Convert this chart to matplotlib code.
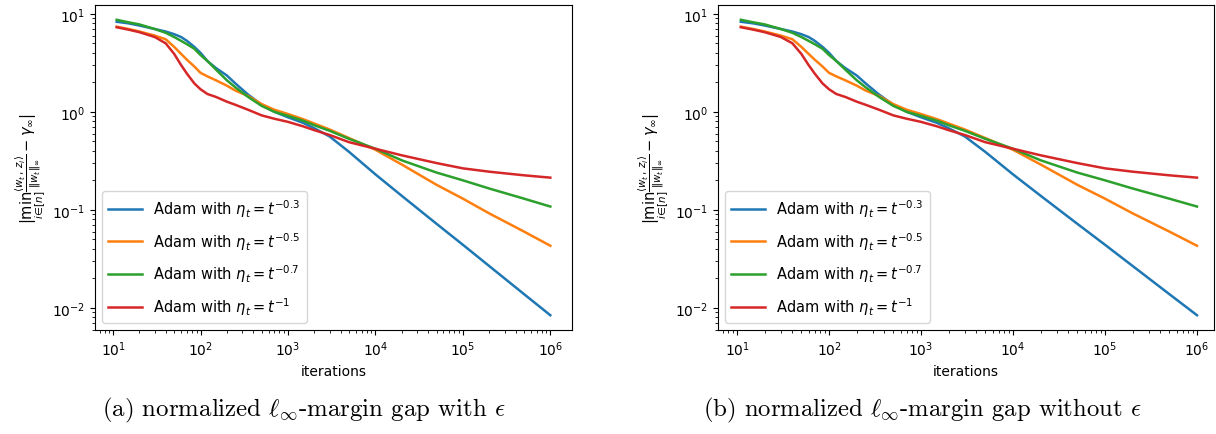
import matplotlib
matplotlib.use("Agg")
import matplotlib.pyplot as plt

# ---- data ----
iterations = [11, 15, 20, 30, 40, 50, 60, 70, 85, 100, 120, 150, 200, 250, 350,
              500, 700, 1000, 1500, 2000, 3000, 5000, 1e4, 2e4, 5e4, 1e5, 2e5, 5e5, 1e6]

gap_eta_03 = [8.3, 8.0, 7.6, 7.0, 6.6, 6.2, 5.8, 5.3, 4.6, 4.0, 3.3, 2.8, 2.35, 1.95, 1.5,
              1.18, 1.0, 0.88, 0.77, 0.68, 0.56, 0.39, 0.23, 0.139, 0.072, 0.044, 0.0267, 0.0138, 0.0084]
gap_eta_05 = [7.4, 7.0, 6.6, 6.0, 5.5, 4.6, 3.9, 3.4, 2.9, 2.5, 2.3, 2.1, 1.85, 1.65, 1.45,
              1.2, 1.05, 0.95, 0.84, 0.76, 0.66, 0.54, 0.41, 0.29, 0.18, 0.13, 0.092, 0.06, 0.043]
gap_eta_07 = [8.7, 8.2, 7.8, 7.0, 6.4, 5.8, 5.3, 4.9, 4.4, 3.8, 3.3, 2.7, 2.1, 1.78, 1.42,
              1.15, 1.0, 0.91, 0.81, 0.73, 0.64, 0.53, 0.42, 0.32, 0.24, 0.2, 0.165, 0.13, 0.108]
gap_eta_10 = [7.3, 6.9, 6.5, 5.8, 5.0, 3.9, 3.0, 2.45, 1.95, 1.7, 1.52, 1.42, 1.27, 1.18, 1.05,
              0.92, 0.85, 0.79, 0.71, 0.65, 0.58, 0.49, 0.42, 0.36, 0.30, 0.265, 0.245, 0.225, 0.213]

series_labels = [r"Adam with $\eta_t = t^{-0.3}$",
                 r"Adam with $\eta_t = t^{-0.5}$",
                 r"Adam with $\eta_t = t^{-0.7}$",
                 r"Adam with $\eta_t = t^{-1}$"]
captions = [r"(a) normalized $\ell_\infty$-margin gap with $\epsilon$",
            r"(b) normalized $\ell_\infty$-margin gap without $\epsilon$"]

ylabel = r"$|\min_{i\in[n]}\frac{\langle w_t,\, z_i\rangle}{\|w_t\|_\infty} - \gamma_\infty|$"

series = [gap_eta_03, gap_eta_05, gap_eta_07, gap_eta_10]
colors = ["#1f77b4", "#ff7f0e", "#2ca02c", "#d62728"]

fig = plt.figure(figsize=(12.16, 4.35), dpi=100)
W, H = 1216, 435
ax1 = fig.add_axes([95 / W, 1 - 331 / H, 477 / W, 325 / H])
ax2 = fig.add_axes([718 / W, 1 - 331 / H, 496 / W, 325 / H])

for ax in (ax1, ax2):
    for vals, lab, c in zip(series, series_labels, colors):
        ax.plot(iterations, vals, color=c, lw=1.8, label=lab)
    ax.set_xscale("log")
    ax.set_yscale("log")
    ax.set_xlabel("iterations", fontsize=10)
    ax.set_ylabel(ylabel, fontsize=10.5)
    ax.legend(loc="lower left", fontsize=10.5, labelspacing=0.75, handlelength=2.3)
    ax.tick_params(labelsize=10)

ax2.set_xlim(10 ** 0.793, 10 ** 6.185)

fig.text(304 / W, 1 - 410 / H, captions[0], ha="center", va="center",
         family="cmr10", math_fontfamily="cm", fontsize=17.9)
fig.text(922 / W, 1 - 410 / H, captions[1], ha="center", va="center",
         family="cmr10", math_fontfamily="cm", fontsize=17.8)

fig.savefig("out.png", dpi=100)
